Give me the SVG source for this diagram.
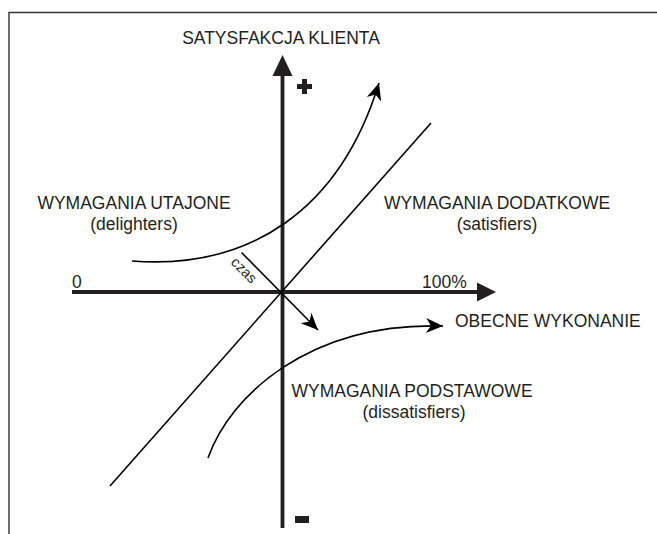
<svg xmlns="http://www.w3.org/2000/svg" width="657" height="534" viewBox="0 0 657 534">
<style>
text{font-family:"Liberation Sans",Arial,sans-serif;fill:#231f20;font-size:17.5px}
.ax{stroke:#231f20;stroke-width:3.8;fill:none}
.ln{stroke:#000;stroke-width:1.6;fill:none}
</style>
<defs>
<marker id="dart" markerUnits="userSpaceOnUse" markerWidth="20" markerHeight="20" viewBox="-18 -9 20 18" refX="0" refY="0" orient="auto">
<path d="M0,0 L-17,-7.5 L-12,0 L-17,7.5 Z" fill="#000"/>
</marker>
</defs>
<rect width="657" height="534" fill="#fff"/>
<g id="frame"><path d="M9,534 V12.5 H657" fill="none" stroke="#333" stroke-width="1.4"/></g>
<g id="connectors">
<line class="ax" x1="282.5" y1="528" x2="282.5" y2="74"/>
<polygon points="282.5,55 272.5,76 292.5,76" fill="#231f20"/>
<line class="ax" x1="72" y1="292" x2="480" y2="292"/>
<polygon points="496,292 477,282.5 477,301.5" fill="#231f20"/>
<line class="ln" x1="431" y1="123" x2="110" y2="486"/>
<line class="ln" x1="241.5" y1="252.5" x2="318" y2="330" marker-end="url(#dart)"/>
<path class="ln" d="M132,261 C250,270 340,210 379,83" marker-end="url(#dart)"/>
<path class="ln" d="M208,458 C230,395 310,322 443,326" marker-end="url(#dart)"/>
</g>
<g id="plus"><rect x="302" y="79" width="5" height="15" fill="#231f20"/><rect x="297" y="84" width="15" height="5" fill="#231f20"/></g>
<g id="minus"><rect x="295" y="516" width="14" height="7" fill="#231f20"/></g>
<g id="labels">
<text x="281" y="44" text-anchor="middle">SATYSFAKCJA KLIENTA</text>
<text x="134" y="209" text-anchor="middle">WYMAGANIA UTAJONE</text>
<text x="134" y="230" text-anchor="middle">(delighters)</text>
<text x="497" y="209" text-anchor="middle">WYMAGANIA DODATKOWE</text>
<text x="497" y="230" text-anchor="middle">(satisfiers)</text>
<text x="412" y="397" text-anchor="middle">WYMAGANIA PODSTAWOWE</text>
<text x="414" y="418" text-anchor="middle">(dissatisfiers)</text>
<text x="72" y="288">0</text>
<text x="422" y="288">100%</text>
<text x="455" y="327">OBECNE WYKONANIE</text>
<text x="230" y="263" transform="rotate(45 230 263)" style="font-size:14.5px">czas</text>
</g>
</svg>
